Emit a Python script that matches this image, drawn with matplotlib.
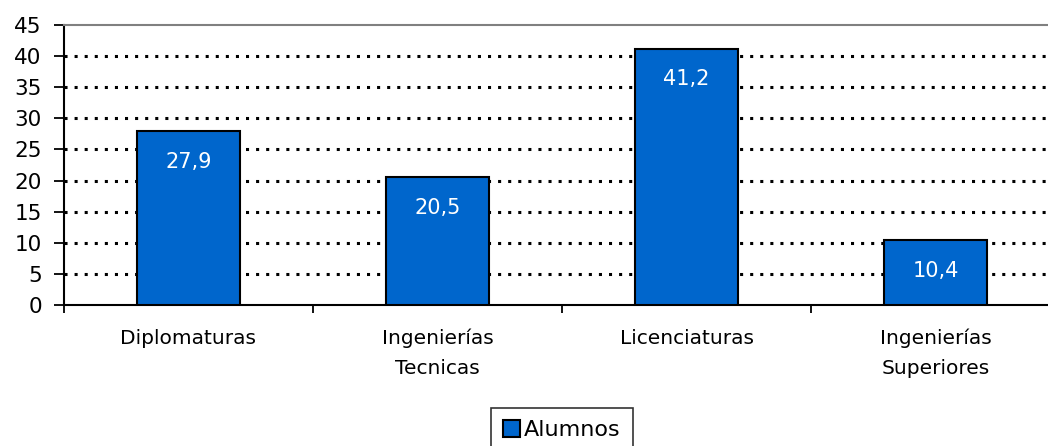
import numpy as np
import matplotlib
matplotlib.use("Agg")
import matplotlib.pyplot as plt

# categories and values (percent of students)
categorias = ["Diplomaturas", "Ingenierías\nTecnicas", "Licenciaturas", "Ingenierías\nSuperiores"]
alumnos = [27.9, 20.5, 41.2, 10.4]
etiquetas = ["27,9", "20,5", "41,2", "10,4"]

plt.rcParams['font.family'] = ['DejaVu Sans']

fig = plt.figure(figsize=(10.48, 4.46), dpi=100)
ax = fig.add_axes([64/1048, 141/446, 996/1048, 280/446])

x = np.arange(len(categorias))
barras = ax.bar(x, alumnos, width=0.41, color="#0066CC", edgecolor="black",
                linewidth=1.5, label="Alumnos", zorder=3)

for xi, v, t in zip(x, alumnos, etiquetas):
    ax.text(xi, v - 4.9, t, ha="center", va="center", color="white", fontsize=15, zorder=4)

ax.set_xlim(-0.5, len(categorias) - 0.5)
ax.set_ylim(0, 45)
ax.set_yticks(range(0, 46, 5))
ax.tick_params(axis="y", labelsize=15.5, length=7, width=1.3, direction="out", pad=9)

# category boundaries as major ticks, names on minor ticks
ax.set_xticks(np.arange(-0.5, len(categorias), 1.0))
ax.set_xticklabels([])
ax.set_xticks(x, minor=True)
ax.set_xticklabels(categorias, minor=True, fontsize=14.5, linespacing=1.7)
ax.tick_params(axis="x", which="minor", length=0, pad=17)
ax.tick_params(axis="x", which="major", length=6, width=1.3, direction="out")

for y in range(5, 45, 5):
    ax.axhline(y, color="black", linestyle=(0, (1, 2.3)), linewidth=2.2, zorder=1)

ax.spines["top"].set_color("#808080")
ax.spines["top"].set_linewidth(1.5)
ax.spines["right"].set_visible(False)
ax.spines["left"].set_linewidth(1.5)
ax.spines["bottom"].set_linewidth(1.5)

leg = ax.legend(loc="upper center", bbox_to_anchor=(0.5, -0.368), fontsize=16,
                frameon=True, fancybox=False, edgecolor="black", handlelength=0.75,
                handleheight=0.75, handletextpad=0.2, borderpad=0.55, borderaxespad=0)
leg.get_frame().set_linewidth(1.2)

fig.savefig("out.png", dpi=100)
